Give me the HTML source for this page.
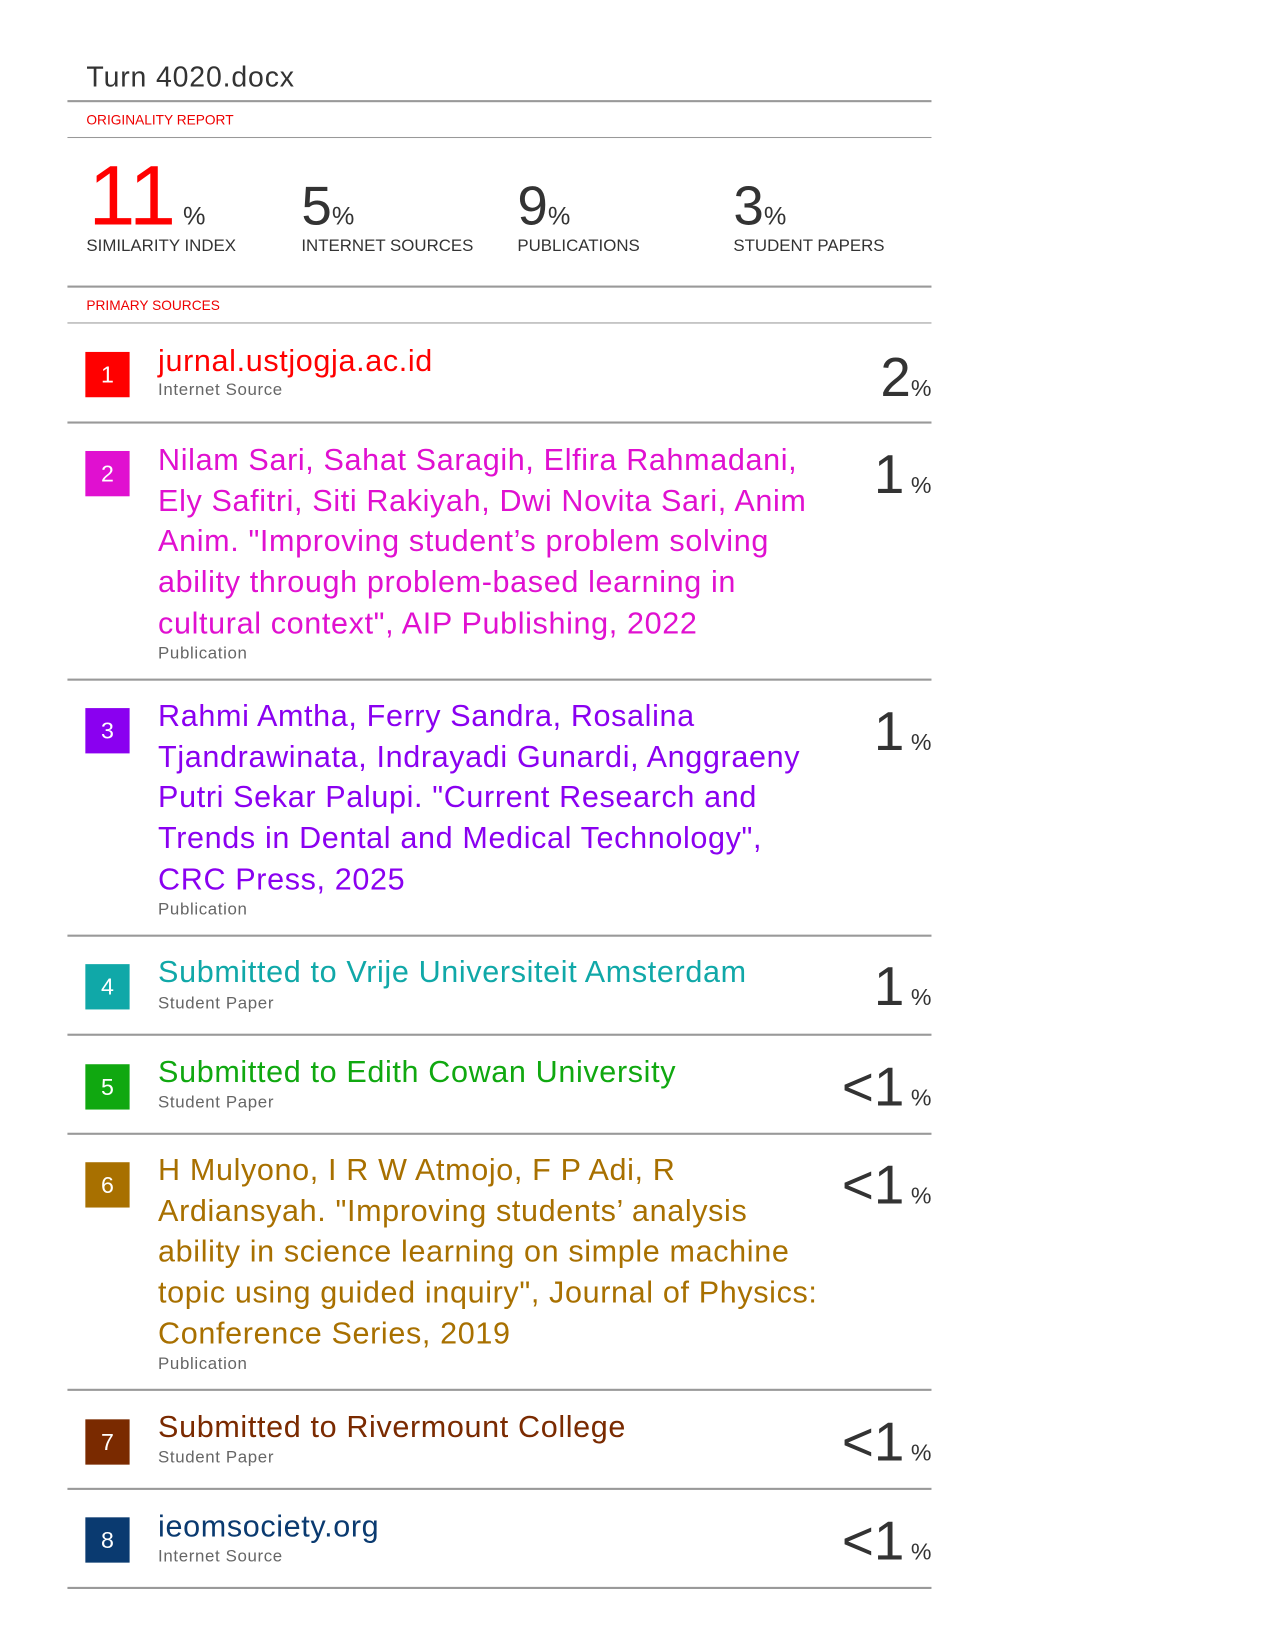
<!DOCTYPE html>
<html><head><meta charset="utf-8"><style>
html,body{margin:0;padding:0;background:#fff;}
body{width:1275px;height:1650px;overflow:hidden;position:relative;}
#w{position:absolute;left:0;top:0;width:1210px;height:1566px;transform:scale(1.0537);transform-origin:0 0;font-family:"Liberation Sans",sans-serif;}
.a{position:absolute;white-space:nowrap;}
.ln{position:absolute;left:64px;width:820px;background:#999;}
.t{position:absolute;left:150px;font-size:29px;letter-spacing:0.6px;line-height:38.7px;white-space:nowrap;}
.s{position:absolute;left:150px;font-size:16px;letter-spacing:0.6px;line-height:20px;color:#666;}
.b{position:absolute;left:81px;width:42px;height:43px;color:#fff;font-size:22px;line-height:43px;text-align:center;}
.p{position:absolute;right:326px;color:#333;white-space:nowrap;line-height:1;}
.p .n{font-size:52px;}
.p .c{font-size:22px;}
.h{position:absolute;color:#333;line-height:1;white-space:nowrap;}
.lab{position:absolute;font-size:16px;color:#333;line-height:20px;}
</style></head><body><div id="w">
<div class="a" style="left:82px;top:58px;font-size:27px;letter-spacing:0.8px;line-height:30px;color:#333">Turn 4020.docx</div>
<div class="ln" style="top:95px;height:2px"></div>
<div class="a" style="left:82px;top:106px;font-size:13px;line-height:16px;color:#e00">ORIGINALITY REPORT</div>
<div class="ln" style="top:130px;height:1px"></div>
<div class="h" style="left:84px;top:146px;font-size:80px;color:#f00">11<span style="font-size:24px;color:#333"> %</span></div>
<div class="h" style="left:286px;top:170px;font-size:52px">5<span style="font-size:24px">%</span></div>
<div class="h" style="left:491px;top:170px;font-size:52px">9<span style="font-size:24px">%</span></div>
<div class="h" style="left:696px;top:170px;font-size:52px">3<span style="font-size:24px">%</span></div>
<div class="lab" style="left:82px;top:224px">SIMILARITY INDEX</div>
<div class="lab" style="left:286px;top:224px">INTERNET SOURCES</div>
<div class="lab" style="left:491px;top:224px">PUBLICATIONS</div>
<div class="lab" style="left:696px;top:224px">STUDENT PAPERS</div>
<div class="ln" style="top:271px;height:2px"></div>
<div class="a" style="left:82px;top:282px;font-size:13px;line-height:16px;color:#e00">PRIMARY SOURCES</div>
<div class="ln" style="top:306px;height:1px"></div>

<div class="b" style="top:334px;background:#f00">1</div>
<div class="t" style="top:324px;color:#f00">jurnal.ustjogja.ac.id</div>
<div class="s" style="top:361px">Internet Source</div>
<div class="p" style="top:333px"><span class="n">2</span><span class="c">%</span></div>
<div class="ln" style="top:400px;height:2px"></div>

<div class="b" style="top:428px;background:#e010d0">2</div>
<div class="t" style="top:418px;color:#e010d0">Nilam Sari, Sahat Saragih, Elfira Rahmadani,<br>Ely Safitri, Siti Rakiyah, Dwi Novita Sari, Anim<br>Anim. "Improving student’s problem solving<br>ability through problem-based learning in<br>cultural context", AIP Publishing, 2022</div>
<div class="s" style="top:611px">Publication</div>
<div class="p" style="top:425px"><span class="n">1</span><span class="c"> %</span></div>
<div class="ln" style="top:644px;height:2px"></div>

<div class="b" style="top:672px;background:#8a00f0">3</div>
<div class="t" style="top:661px;color:#8a00f0">Rahmi Amtha, Ferry Sandra, Rosalina<br>Tjandrawinata, Indrayadi Gunardi, Anggraeny<br>Putri Sekar Palupi. "Current Research and<br>Trends in Dental and Medical Technology",<br>CRC Press, 2025</div>
<div class="s" style="top:854px">Publication</div>
<div class="p" style="top:669px"><span class="n">1</span><span class="c"> %</span></div>
<div class="ln" style="top:887px;height:2px"></div>

<div class="b" style="top:915px;background:#10a8a8">4</div>
<div class="t" style="top:904px;color:#10a8a8">Submitted to Vrije Universiteit Amsterdam</div>
<div class="s" style="top:943px">Student Paper</div>
<div class="p" style="top:911px"><span class="n">1</span><span class="c"> %</span></div>
<div class="ln" style="top:981px;height:2px"></div>

<div class="b" style="top:1010px;background:#10a810">5</div>
<div class="t" style="top:999px;color:#10a810">Submitted to Edith Cowan University</div>
<div class="s" style="top:1037px">Student Paper</div>
<div class="p" style="top:1006px"><span class="n">&lt;1</span><span class="c"> %</span></div>
<div class="ln" style="top:1075px;height:2px"></div>

<div class="b" style="top:1103px;background:#a87000">6</div>
<div class="t" style="top:1092px;color:#a87000">H Mulyono, I R W Atmojo, F P Adi, R<br>Ardiansyah. "Improving students’ analysis<br>ability in science learning on simple machine<br>topic using guided inquiry", Journal of Physics:<br>Conference Series, 2019</div>
<div class="s" style="top:1285px">Publication</div>
<div class="p" style="top:1099px"><span class="n">&lt;1</span><span class="c"> %</span></div>
<div class="ln" style="top:1318px;height:2px"></div>

<div class="b" style="top:1347px;background:#7a2a00">7</div>
<div class="t" style="top:1336px;color:#7a2a00">Submitted to Rivermount College</div>
<div class="s" style="top:1374px">Student Paper</div>
<div class="p" style="top:1343px"><span class="n">&lt;1</span><span class="c"> %</span></div>
<div class="ln" style="top:1412px;height:2px"></div>

<div class="b" style="top:1440px;background:#0a3a70">8</div>
<div class="t" style="top:1430px;color:#0a3a70">ieomsociety.org</div>
<div class="s" style="top:1468px">Internet Source</div>
<div class="p" style="top:1437px"><span class="n">&lt;1</span><span class="c"> %</span></div>
<div class="ln" style="top:1506px;height:2px"></div>
</div></body></html>
